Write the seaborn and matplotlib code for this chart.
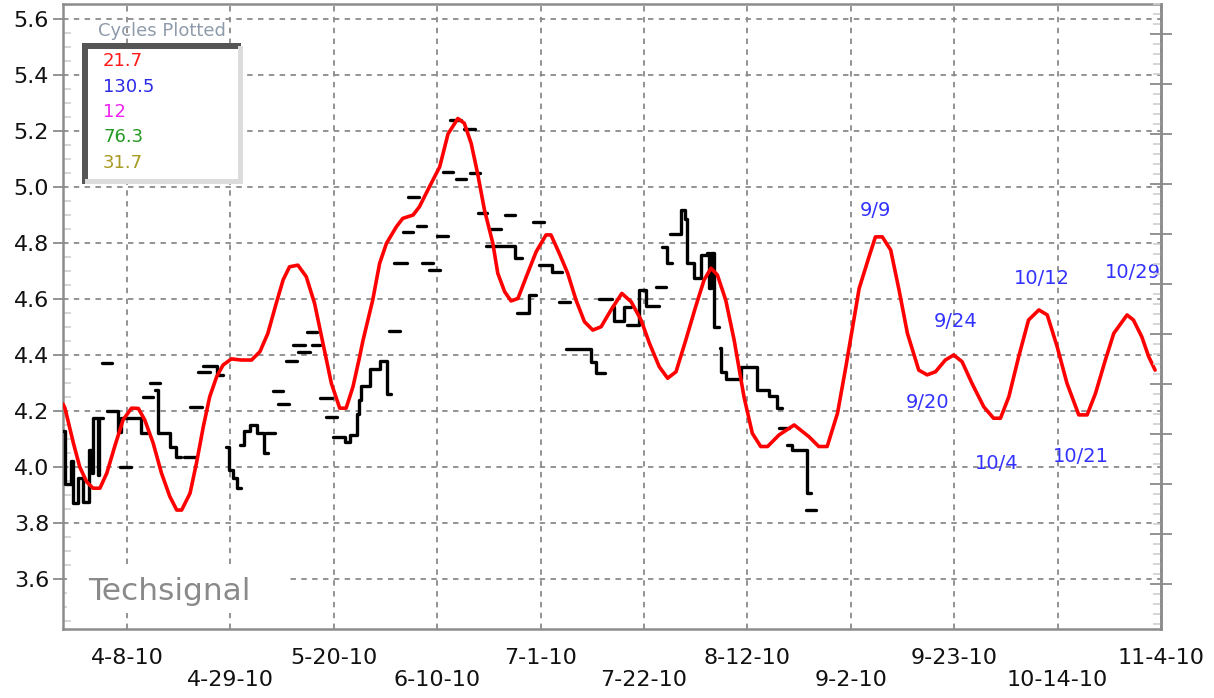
import numpy as np
import pandas as pd
import matplotlib
matplotlib.use("Agg")
import matplotlib.pyplot as plt
import matplotlib.dates as mdates
from matplotlib.ticker import MultipleLocator, FormatStrFormatter
from matplotlib.patches import Rectangle
import seaborn as sns

# ---------------- data ----------------
base_date = "2010-03-26"
end_date = "2010-11-04"
tick_dates = ["2010-04-08", "2010-04-29", "2010-05-20", "2010-06-10", "2010-07-01",
              "2010-07-22", "2010-08-12", "2010-09-02", "2010-09-23", "2010-10-14",
              "2010-11-04"]
tick_labels = ["4-8-10", "4-29-10", "5-20-10", "6-10-10", "7-1-10", "7-22-10",
               "8-12-10", "9-2-10", "9-23-10", "10-14-10", "11-4-10"]

# red cycle composite (days since base_date, value)
cyc_day = [0.0, 0.4, 2.1, 3.4, 4.8, 6.1, 7.5, 8.9, 10.5, 12.2, 13.9, 15.3, 16.6, 18.3,
           20.0, 21.7, 23.1, 24.1, 25.8, 27.1, 28.5, 29.8, 31.2, 32.5, 34.2, 36.2, 38.3,
           40.0, 41.6, 43.3, 44.7, 46.0, 47.7, 49.4, 51.1, 52.8, 54.5, 56.2, 57.5, 58.9,
           60.2, 60.9, 62.9, 64.3, 65.7, 67.7, 69.0, 71.1, 72.4, 74.4, 76.5, 78.2, 80.2,
           81.5, 82.9, 84.2, 85.6, 87.3, 88.3, 89.7, 91.0, 92.4, 94.1, 96.1, 98.1, 99.1,
           100.8, 102.5, 104.2, 105.9, 107.6, 109.3, 111.3, 113.5, 115.4, 117.4, 119.1,
           121.1, 122.8, 124.5, 126.5, 128.5, 130.2, 131.6, 132.9, 134.6, 136.3, 138.3,
           140.0, 141.7, 143.1, 145.4, 148.5, 151.5, 153.5, 155.2, 157.3, 159.0, 160.6,
           161.7, 163.7, 165.0, 166.4, 168.1, 169.8, 171.5, 173.8, 175.5, 177.2, 179.2,
           180.9, 182.6, 184.6, 187.0, 189.0, 190.4, 192.1, 194.1, 196.1, 198.2, 199.9,
           201.9, 203.9, 206.3, 208.0, 209.7, 211.7, 213.4, 216.1, 217.4, 219.1, 220.5,
           221.8]
cyc_val = [4.225, 4.21, 4.086, 4.0, 3.947, 3.924, 3.924, 3.978, 4.073, 4.168, 4.21, 4.209,
           4.168, 4.086, 3.978, 3.894, 3.846, 3.846, 3.906, 4.013, 4.144, 4.251, 4.322,
           4.364, 4.386, 4.382, 4.382, 4.412, 4.477, 4.584, 4.668, 4.715, 4.721, 4.68,
           4.584, 4.442, 4.299, 4.21, 4.21, 4.287, 4.39, 4.45, 4.596, 4.727, 4.799, 4.858,
           4.888, 4.9, 4.93, 5.0, 5.072, 5.19, 5.245, 5.228, 5.156, 5.049, 4.918, 4.799,
           4.692, 4.626, 4.593, 4.602, 4.68, 4.769, 4.829, 4.829, 4.763, 4.692, 4.596,
           4.519, 4.489, 4.501, 4.561, 4.62, 4.59, 4.525, 4.442, 4.358, 4.317, 4.34,
           4.454, 4.573, 4.668, 4.71, 4.686, 4.596, 4.454, 4.251, 4.12, 4.073, 4.073,
           4.114, 4.15, 4.108, 4.073, 4.073, 4.192, 4.358, 4.525, 4.638, 4.751, 4.822,
           4.822, 4.775, 4.632, 4.477, 4.346, 4.329, 4.34, 4.382, 4.4, 4.376, 4.299,
           4.215, 4.174, 4.174, 4.251, 4.394, 4.525, 4.561, 4.543, 4.43, 4.299, 4.186,
           4.186, 4.263, 4.382, 4.477, 4.543, 4.525, 4.465, 4.394, 4.346]

# black price steps: start day, end day, value
seg_start = [0.0, 0.4, 1.6, 2.0, 3.0, 4.1, 5.3, 5.9, 6.1, 7.1, 7.3, 7.9, 8.9, 11.2, 11.8,
             15.8, 11.6, 16.2, 17.6, 18.7, 19.3, 21.7, 22.9, 24.5, 25.8, 27.4, 28.4, 31.2,
             33.1, 33.7, 34.5, 35.3, 35.9, 36.7, 37.9, 39.4, 40.8, 41.2, 42.6, 43.6, 45.2,
             46.7, 47.7, 49.5, 50.5, 52.2, 53.5, 54.8, 57.2, 58.2, 59.8, 60.2, 60.6, 62.3,
             64.3, 65.9, 66.3, 67.3, 69.0, 70.0, 71.8, 73.0, 74.4, 75.9, 77.1, 78.5, 79.9,
             81.5, 82.6, 84.2, 86.0, 91.7, 87.0, 89.7, 92.3, 94.7, 95.5, 96.6, 99.4, 100.8,
             102.2, 107.3, 108.3, 108.9, 111.5, 112.0, 114.0, 114.6, 117.0, 118.5, 120.5,
             121.7, 122.7, 123.3, 125.6, 126.4, 126.8, 128.2, 129.6, 130.8, 131.2, 131.6,
             132.3, 133.5, 133.7, 134.7, 137.7, 141.0, 143.4, 145.0, 145.4, 147.1, 148.1,
             151.1, 150.9]
seg_end = [0.4, 1.6, 2.0, 3.0, 4.1, 5.3, 5.9, 6.1, 7.1, 7.3, 8.1, 9.9, 11.2, 11.8, 15.8,
           17.0, 13.8, 18.3, 19.7, 19.3, 21.7, 22.9, 23.9, 27.0, 28.2, 29.8, 31.2, 32.5,
           33.7, 34.5, 35.3, 36.1, 36.7, 37.9, 39.4, 40.8, 41.6, 43.0, 44.6, 46.0, 47.5,
           49.1, 50.1, 51.5, 52.1, 54.6, 55.6, 57.2, 58.2, 59.8, 60.2, 60.6, 62.3, 64.3,
           65.9, 66.7, 68.4, 69.8, 71.0, 72.4, 73.8, 75.1, 76.5, 78.1, 79.3, 80.9, 81.9,
           83.6, 84.6, 86.2, 91.7, 93.3, 89.0, 91.9, 94.7, 96.1, 97.6, 99.4, 101.4, 103.0,
           107.3, 108.3, 110.1, 111.4, 112.0, 114.0, 115.4, 117.0, 118.5, 121.1, 122.5,
           122.7, 123.7, 125.6, 126.4, 126.8, 128.2, 129.6, 130.8, 131.2, 131.6, 132.3,
           133.3, 133.7, 134.7, 137.7, 141.0, 143.4, 145.0, 146.0, 147.5, 148.1, 151.1,
           151.9, 152.9]
seg_val = [4.13, 3.94, 4.02, 3.87, 3.96, 3.875, 4.06, 3.98, 4.175, 3.97, 4.175, 4.37, 4.20,
           4.125, 4.175, 4.12, 4.0, 4.25, 4.30, 4.275, 4.12, 4.07, 4.036, 4.036, 4.214,
           4.34, 4.36, 4.33, 4.07, 3.99, 3.96, 3.925, 4.08, 4.13, 4.15, 4.12, 4.05, 4.12,
           4.27, 4.225, 4.38, 4.436, 4.41, 4.482, 4.436, 4.246, 4.18, 4.107, 4.09, 4.114,
           4.19, 4.24, 4.29, 4.35, 4.38, 4.26, 4.486, 4.729, 4.84, 4.964, 4.86, 4.729,
           4.704, 4.825, 5.054, 5.24, 5.029, 5.207, 5.05, 4.907, 4.79, 4.745, 4.85, 4.9,
           4.55, 4.614, 4.875, 4.72, 4.697, 4.59, 4.42, 4.375, 4.336, 4.6, 4.57, 4.52,
           4.57, 4.507, 4.632, 4.575, 4.643, 4.786, 4.729, 4.832, 4.918, 4.886, 4.729,
           4.675, 4.757, 4.764, 4.64, 4.764, 4.5, 4.425, 4.339, 4.314, 4.357, 4.275,
           4.254, 4.21, 4.139, 4.079, 4.061, 3.907, 3.846]

ann_text = ["9/9", "9/24", "10/12", "10/29", "9/20", "10/4", "10/21"]
ann_day = [165.1, 181.3, 198.8, 217.2, 175.5, 189.7, 206.7]
ann_val = [4.918, 4.518, 4.675, 4.696, 4.229, 4.014, 4.036]

cycles = ["21.7", "130.5", "12", "76.3", "31.7"]
cycle_colors = ["#ff1a1a", "#2a2ae6", "#f020f0", "#229922", "#a89a22"]

# ---------------- figure ----------------
sns.set_theme(style="white")
plt.rcParams["font.family"] = ["DejaVu Sans"]

W, H = 1214, 698
fig = plt.figure(figsize=(W / 100, H / 100), dpi=100)
ax = fig.add_axes([63 / W, 1 - 629 / H, (1161 - 63) / W, (629 - 4) / H])

base = pd.Timestamp(base_date)


def to_date(days):
    return base + pd.to_timedelta(np.asarray(days, dtype=float), unit="D")


# black price steps -> pieces
pieces = []
for s, e, v in zip(seg_start, seg_end, seg_val):
    if pieces and abs(s - pieces[-1][-1][1]) < 1e-9:
        pieces[-1].append((s, e, v))
    else:
        pieces.append([(s, e, v)])
rows = []
for k, pc in enumerate(pieces):
    for s, e, v in pc:
        rows.append((k, s, v))
    rows.append((k, pc[-1][1], pc[-1][2]))
df_px = pd.DataFrame(rows, columns=["piece", "day", "value"])
df_px["date"] = to_date(df_px["day"])

sns.lineplot(data=df_px, x="date", y="value", units="piece", estimator=None,
             drawstyle="steps-post", color="black", lw=2.4, ax=ax, zorder=3,
             legend=False)

df_cyc = pd.DataFrame({"date": to_date(cyc_day), "value": cyc_val})
sns.lineplot(data=df_cyc, x="date", y="value", color="#ff0000", lw=2.6, ax=ax,
             zorder=4, legend=False)

ax.set_xlim(base, pd.Timestamp(end_date))
ax.set_ylim(3.421, 5.654)
ax.set_xlabel("")
ax.set_ylabel("")

tick_nums = mdates.date2num(pd.to_datetime(tick_dates))
ax.set_xticks(tick_nums, labels=[lab if i % 2 == 0 else "\n" + lab
                                 for i, lab in enumerate(tick_labels)])
for t in ax.get_xticklabels():
    t.set_linespacing(1.1)

ax.yaxis.set_major_locator(MultipleLocator(0.2))
ax.yaxis.set_minor_locator(MultipleLocator(0.05))
ax.yaxis.set_major_formatter(FormatStrFormatter("%.1f"))

grid_kw = dict(color="#8a8a8a", linestyle=(0, (3, 3)), lw=1.3)
ax.grid(True, which="major", axis="both", **grid_kw)
ax.set_axisbelow(True)

ax.tick_params(axis="x", which="major", direction="out", length=10, width=1.3,
               color="#8a8a8a", labelsize=16, labelcolor="#111111", pad=4)
ax.tick_params(axis="y", which="major", direction="out", length=7, width=1.3,
               color="#8a8a8a", labelsize=16, labelcolor="#111111", pad=3)
ax.tick_params(axis="y", which="minor", direction="in", length=6, width=1.2,
               color="#d0d0d0", left=True)
for sp in ax.spines.values():
    sp.set_color("#8c8c8c")
    sp.set_linewidth(1.8)

# right-hand axis with its own ticks
ax2 = ax.twinx()
ax2.set_ylim(-0.9, 11.6)
ax2.yaxis.set_major_locator(MultipleLocator(1))
ax2.yaxis.set_minor_locator(MultipleLocator(0.2))
ax2.tick_params(axis="y", which="major", direction="inout", length=16, width=1.3,
                color="#8a8a8a", labelright=False)
ax2.tick_params(axis="y", which="minor", direction="in", length=6, width=1.2,
                color="#d0d0d0")
ax2.grid(False)
for name, sp in ax2.spines.items():
    sp.set_visible(name == "right")
    sp.set_color("#8c8c8c")
    sp.set_linewidth(1.8)

# annotations
for s, d, v in zip(ann_text, ann_day, ann_val):
    ax.text(mdates.date2num(to_date([d])[0]), v, s, color="#3333ff", fontsize=14,
            ha="center", va="center", clip_on=True, zorder=5)


# legend box (figure pixel coordinates)
def px_rect(x0, y0, x1, y1, color):
    fig.add_artist(Rectangle((x0 / W, 1 - y1 / H), (x1 - x0) / W, (y1 - y0) / H,
                             transform=fig.transFigure, facecolor=color,
                             edgecolor="none", zorder=2))


px_rect(82, 43, 243, 184, "white")
px_rect(82, 43, 88, 184, "#555555")
px_rect(82, 43, 241, 49, "#555555")
px_rect(238, 46, 243, 184, "#dcdcdc")
px_rect(85, 179, 243, 184, "#dcdcdc")
fig.text(162 / W, 1 - 31 / H, "Cycles Plotted", color="#8e9bab", fontsize=13,
         ha="center", va="center", zorder=3)
for i, (c, col) in enumerate(zip(cycles, cycle_colors)):
    fig.text(103 / W, 1 - (61 + 25.5 * i) / H, c, color=col, fontsize=13,
             ha="left", va="center", zorder=3)

# watermark
px_rect(67, 569, 290, 613, "white")
fig.text(88 / W, 1 - 591 / H, "Techsignal", color="#8a8a8a", fontsize=22.5,
         ha="left", va="center", zorder=3)

fig.savefig("out.png", dpi=100)
